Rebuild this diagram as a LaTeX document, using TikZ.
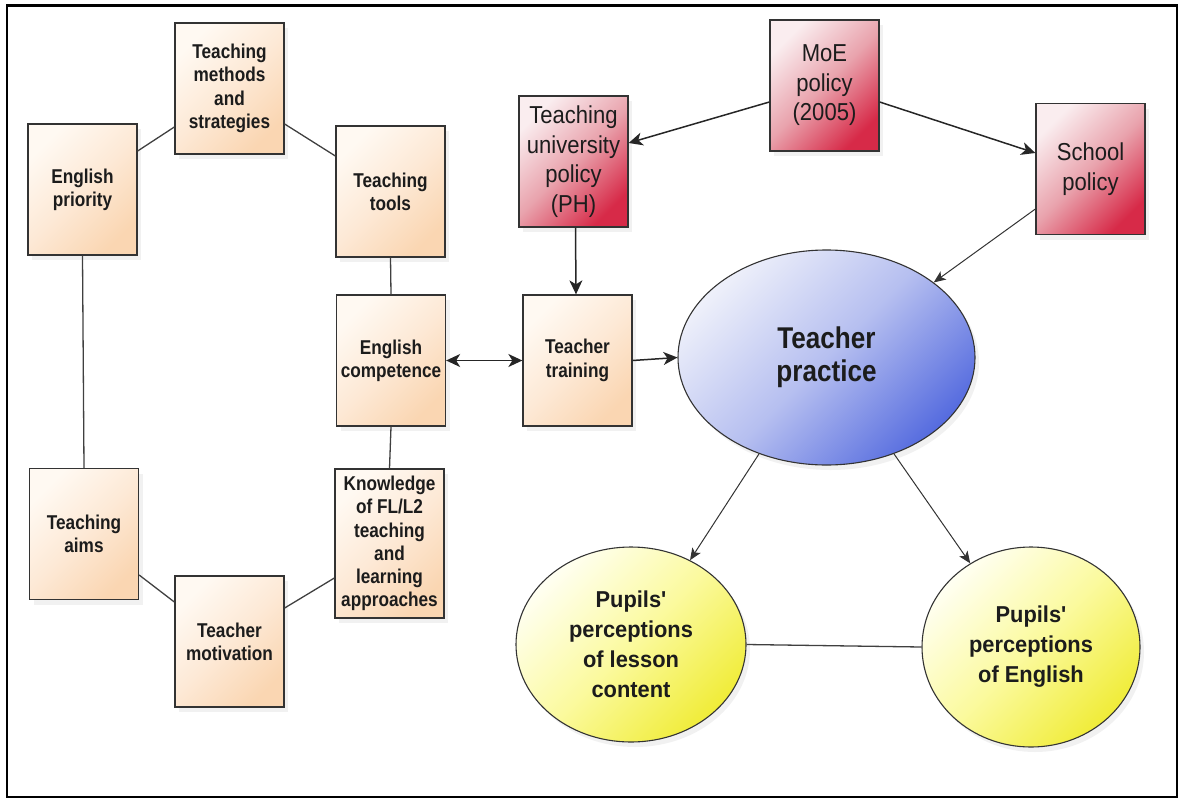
\documentclass[tikz,border=0pt]{standalone}
\usepackage{fontspec}
\setmainfont{Liberation Sans}
\newfontfamily\beigefamily[FakeStretch=0.86]{Liberation Sans}
\newfontfamily\redfamily[FakeStretch=0.9]{Liberation Sans}
\newfontfamily\tpfamily[FakeStretch=0.87]{Liberation Sans}
\newfontfamily\pupfamily[FakeStretch=0.95]{Liberation Sans}
\usetikzlibrary{shapes.geometric,arrows.meta,shadows,calc}
\definecolor{txt}{HTML}{1C1C1C}
\definecolor{edge}{HTML}{333333}
\definecolor{bgA}{HTML}{FFF9F2}
\definecolor{bgB}{HTML}{FDE9D6}
\definecolor{bgC}{HTML}{FAD6B2}
\definecolor{rdA}{HTML}{FAEDEF}
\definecolor{rdB}{HTML}{E9A3AD}
\definecolor{rdC}{HTML}{D72A48}
\definecolor{blA}{HTML}{EEF0FA}
\definecolor{blB}{HTML}{B6BFF0}
\definecolor{blC}{HTML}{566CDF}
\definecolor{ylA}{HTML}{FFFFF2}
\definecolor{ylB}{HTML}{FBFA9E}
\definecolor{ylC}{HTML}{F0EC38}
\begin{document}
\begin{tikzpicture}[x=1pt,y=-1pt,
  shd/.style={drop shadow={opacity=0.11,shadow xshift=4pt,shadow yshift=-5pt}},
  beigebox/.style={shd,draw=edge,line width=1.3pt,rectangle,minimum width=109pt,minimum height=131pt,
    inner sep=1pt,align=center,text=txt,top color=bgA,bottom color=bgC,middle color=bgB,shading angle=45,
    font=\beigefamily\bfseries\fontsize{20}{23.3}\selectfont},
  redbox/.style={shd,draw=edge,line width=1.3pt,rectangle,minimum width=109pt,minimum height=131pt,
    inner sep=1pt,align=center,text=txt,top color=rdA,bottom color=rdC,middle color=rdB,shading angle=45,
    font=\redfamily\fontsize{24.5}{29.5}\selectfont},
  tpell/.style={shd,draw=edge,line width=1.1pt,ellipse,inner sep=0pt,minimum width=297pt,minimum height=215pt,
    align=center,text=txt,top color=blA,bottom color=blC,middle color=blB,shading angle=45,
    font=\tpfamily\bfseries\fontsize{30}{33}\selectfont},
  yell/.style={shd,draw=edge,line width=1.1pt,ellipse,inner sep=0pt,
    align=center,text=txt,top color=ylA,bottom color=ylC,middle color=ylB,shading angle=45,
    font=\pupfamily\bfseries\fontsize{23}{30}\selectfont},
  conn/.style={draw=black!75,line width=1.3pt},
  arr/.style={draw=black!85,line width=1.5pt,-{Stealth[length=14pt,width=13pt,inset=4pt]}},
  darr/.style={draw=black!85,line width=1.5pt,{Stealth[length=14pt,width=13pt,inset=4pt]}-{Stealth[length=14pt,width=13pt,inset=4pt]}},
  sarr/.style={draw=black!80,line width=1pt,-{Stealth[length=12pt,width=10pt,inset=3pt]}}
]
\useasboundingbox (0,0) rectangle (1185,803);
\draw[line width=2.5pt] (7,5.5) rectangle (1177,797);

% beige boxes
\node[beigebox] (EP) at (82.5,189.5) {English\\priority};
\node[beigebox] (TMS) at (229.5,88.5) {Teaching\\methods\\and\\strategies};
\node[beigebox] (TT) at (390.5,191.5) {Teaching\\tools};
\node[beigebox] (EC) at (391,360.5) {English\\competence};
\node[beigebox,minimum height=149pt] (KN) at (389.5,543.5) {Knowledge\\of FL/L2\\teaching\\and\\learning\\approaches};
\node[beigebox] (TA) at (84,534) {Teaching\\aims};
\node[beigebox] (TM) at (229.5,641.5) {Teacher\\motivation};
\node[beigebox] (TR) at (577.5,360.5) {Teacher\\training};

% red boxes
\node[redbox] (UNI) at (573.5,161.5) {Teaching\\university\\policy\\(PH)};
\node[redbox] (MOE) at (824.5,85.5) {MoE\\policy\\(2005)};
\node[redbox] (SCH) at (1090.5,169) {School\\policy};

% ellipses
\node[tpell] (TP) at (826.5,357.5) {Teacher\\practice};
\node[yell,minimum width=230pt,minimum height=195pt] (LY) at (631,644.5) {Pupils'\\perceptions\\of lesson\\content};
\node[yell,minimum width=218pt,minimum height=200pt] (RY) at (1031,647) {Pupils'\\perceptions\\of English};

% undirected links
\draw[conn] ([yshift=38.5]EP.east) -- ([yshift=-38.5]TMS.west);
\draw[conn] ([yshift=-35.5]TMS.east) -- ([yshift=35.5]TT.west);
\draw[conn] (TT.south) -- (EC.north);
\draw[conn] (EC.south) -- (KN.north);
\draw[conn] (EP.south) -- (TA.north);
\draw[conn] ([yshift=-41]TA.east) -- ([yshift=39.5]TM.west);
\draw[conn] ([yshift=33.5]TM.east) -- ([yshift=-34.5]KN.west);
\draw[conn] (LY.east) -- (RY.west);

% arrows
\draw[darr] (EC.east) -- (TR.west);
\draw[arr] (TR.east) -- (TP.west);
\draw[arr] ([xshift=2]UNI.south) -- ([xshift=-1.5]TR.north);
\draw[arr] ([yshift=-16.5]MOE.west) -- ([yshift=18.5]UNI.east);
\draw[arr] ([yshift=-16.5]MOE.east) -- ([yshift=16]SCH.west);
\draw[sarr] ([yshift=-40]SCH.west) -- (TP.35);
\draw[sarr] (TP.235) -- (LY.55);
\draw[sarr] (TP.305) -- (RY.126);
\end{tikzpicture}
\end{document}
